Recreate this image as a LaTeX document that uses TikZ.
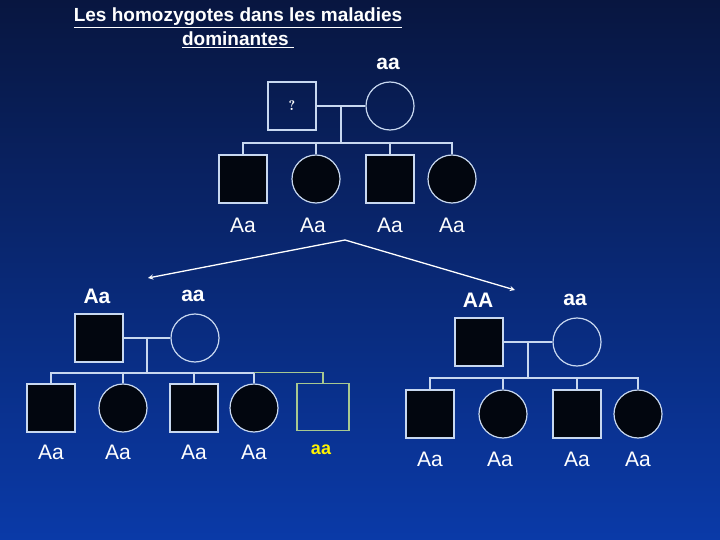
\documentclass[tikz,border=0pt]{standalone}
\usepackage{fontspec}
\setmainfont{Liberation Sans}
\begin{document}
\begin{tikzpicture}[x=1pt,y=-1pt,
  sq/.style={draw=edge,fill=ink,line width=1.2pt,minimum size=48pt,inner sep=0pt},
  ci/.style={circle,draw=edge,fill=ink,line width=1.2pt,minimum size=48pt,inner sep=0pt},
  lbl/.style={text=white,font=\fontsize{21}{24}\selectfont},
  ln/.style={draw=edge,line width=1.2pt},
  arr/.style={draw=white,line width=1.3pt,-stealth}]
\definecolor{edge}{HTML}{C8D8F0}
\definecolor{ink}{HTML}{02060F}
\definecolor{topc}{HTML}{081640}
\definecolor{botc}{HTML}{0A3AA8}
\definecolor{grn}{HTML}{A8C890}
\fill[top color=topc,bottom color=botc] (0,0) rectangle (720,540);
\useasboundingbox (0,0) rectangle (720,540);
% title
\node[text=white,font=\bfseries\fontsize{19}{24}\selectfont,align=center] (title) at (238,28) {\underline{Les homozygotes dans les maladies}\\\underline{dominantes\ }};
% top family
\node[sq,fill=none] (f) at (292,106) {\textcolor{white}{\fontfamily{lmr}\fontsize{14}{14}\selectfont\bfseries ?}};
\node[ci,fill=none] (m) at (390,106) {};
\node[lbl,font=\bfseries\fontsize{21}{24}\selectfont] (mg) at (388,64) {aa};
\coordinate (tj) at (341,106);
\coordinate (tb) at (341,143);
\draw[ln] (f) -- (m);
\draw[ln] (tj) -- (tb);
\node[sq] (c1) at (243,179) {};
\node[ci] (c2) at (316,179) {};
\node[sq] (c3) at (390,179) {};
\node[ci] (c4) at (452,179) {};
\draw[ln] (c1.north) |- (tb) -| (c4.north);
\draw[ln] (c2.north) -- ++(0,-12);
\draw[ln] (c3.north) -- ++(0,-12);
\node[lbl] (l1) at (243,225) {Aa};
\node[lbl] (l2) at (313,225) {Aa};
\node[lbl] (l3) at (390,225) {Aa};
\node[lbl] (l4) at (452,225) {Aa};
% arrows
\coordinate (peak) at (345,240);
\coordinate (la) at (148,278);
\coordinate (ra) at (515,290);
\draw[arr] (peak) -- (la);
\draw[arr] (peak) -- (ra);
% left family
\node[lbl,font=\bfseries\fontsize{21}{24}\selectfont] (lf) at (97,296) {Aa};
\node[lbl,font=\bfseries\fontsize{21}{24}\selectfont] (lm) at (193,296) {aa};
\node[sq] (lF) at (99,338) {};
\node[ci,fill=none] (lM) at (195,338) {};
\draw[ln] (lF) -- (lM);
\coordinate (lj) at (147,338);
\coordinate (lb) at (147,373);
\draw[ln] (lj) -- (lb);
\node[sq] (d1) at (51,408) {};
\node[ci] (d2) at (123,408) {};
\node[sq] (d3) at (194,408) {};
\node[ci] (d4) at (254,408) {};
\node[draw=grn,line width=1.2pt,minimum width=52pt,minimum height=47pt,inner sep=0pt] (d5) at (323,407) {};
\draw[ln] (d1.north) |- (lb) -| (d4.north);
\draw[ln] (d2.north) -- ++(0,-11);
\draw[ln] (d3.north) -- ++(0,-11);
\draw[draw=grn,line width=1.2pt] (d4.north) ++(0,-11) -| (d5.north);
\node[lbl] (k1) at (51,452) {Aa};
\node[lbl] (k2) at (118,452) {Aa};
\node[lbl] (k3) at (194,452) {Aa};
\node[lbl] (k4) at (254,452) {Aa};
\node[text=yellow,font=\bfseries\fontsize{18}{20}\selectfont] (k5) at (321,450) {aa};
% right family
\node[lbl,font=\bfseries\fontsize{21}{24}\selectfont] (rf) at (478,300) {AA};
\node[lbl,font=\bfseries\fontsize{21}{24}\selectfont] (rm) at (575,300) {aa};
\node[sq] (rF) at (479,342) {};
\node[ci,fill=none] (rM) at (577,342) {};
\draw[ln] (rF) -- (rM);
\coordinate (rj) at (528,342);
\coordinate (rb) at (528,378);
\draw[ln] (rj) -- (rb);
\node[sq] (e1) at (430,414) {};
\node[ci] (e2) at (503,414) {};
\node[sq] (e3) at (577,414) {};
\node[ci] (e4) at (638,414) {};
\draw[ln] (e1.north) |- (rb) -| (e4.north);
\draw[ln] (e2.north) -- ++(0,-12);
\draw[ln] (e3.north) -- ++(0,-12);
\node[lbl] (r1) at (430,459) {Aa};
\node[lbl] (r2) at (500,459) {Aa};
\node[lbl] (r3) at (577,459) {Aa};
\node[lbl] (r4) at (638,459) {Aa};
\end{tikzpicture}
\end{document}
